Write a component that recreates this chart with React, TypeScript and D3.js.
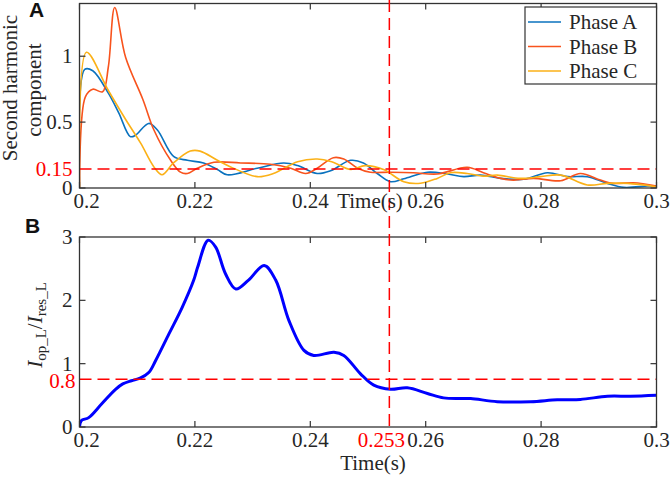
import React from "react";
import * as d3 from "d3";

// ---------- Data ----------
const phaseNames = ["Phase A", "Phase B", "Phase C"];
const phaseColors = ["#0A72BE", "#F8531D", "#FBB117"];

const tA = [0.2, 0.2009, 0.2023, 0.205, 0.2068, 0.2088, 0.2097, 0.212, 0.2135, 0.2163, 0.2187, 0.2215, 0.2239, 0.2256, 0.2308, 0.2354, 0.2378, 0.2412, 0.2435, 0.247, 0.2492, 0.2516, 0.2539, 0.2562, 0.2603, 0.2638, 0.2666, 0.2695, 0.273, 0.277, 0.2811, 0.2846, 0.288, 0.2915, 0.2943, 0.2985, 0.3];
const vA = [0, 0.9, 0.89, 0.72, 0.57, 0.39, 0.4, 0.49, 0.44, 0.24, 0.21, 0.19, 0.14, 0.1, 0.15, 0.19, 0.17, 0.11, 0.13, 0.21, 0.19, 0.11, 0.048, 0.07, 0.12, 0.106, 0.086, 0.098, 0.073, 0.066, 0.116, 0.086, 0.086, 0.035, 0.005, 0.015, 0.015];

const tB = [0.2, 0.201, 0.2023, 0.204, 0.205, 0.2061, 0.208, 0.211, 0.2129, 0.2158, 0.2175, 0.2187, 0.2204, 0.2233, 0.2279, 0.2331, 0.2366, 0.2392, 0.2412, 0.244, 0.2458, 0.2482, 0.2504, 0.2539, 0.2579, 0.262, 0.2672, 0.27, 0.273, 0.2752, 0.2787, 0.2834, 0.2868, 0.2903, 0.2925, 0.296, 0.3];
const vB = [0, 0.69, 0.75, 0.73, 0.92, 1.37, 0.99, 0.67, 0.44, 0.21, 0.12, 0.11, 0.15, 0.195, 0.19, 0.18, 0.15, 0.11, 0.15, 0.23, 0.22, 0.15, 0.12, 0.12, 0.116, 0.106, 0.157, 0.116, 0.073, 0.06, 0.073, 0.055, 0.11, 0.06, 0.035, 0.04, 0.015];

const tC = [0.2, 0.2012, 0.205, 0.208, 0.2106, 0.2129, 0.2143, 0.2163, 0.2192, 0.2209, 0.2239, 0.2262, 0.2308, 0.2336, 0.2378, 0.2412, 0.2437, 0.247, 0.2495, 0.2527, 0.2562, 0.2591, 0.262, 0.2643, 0.2672, 0.27, 0.2724, 0.2764, 0.2799, 0.2834, 0.288, 0.2915, 0.295, 0.3];
const vC = [0, 1.03, 0.74, 0.52, 0.34, 0.16, 0.1, 0.19, 0.28, 0.28, 0.21, 0.16, 0.086, 0.11, 0.2, 0.22, 0.2, 0.14, 0.17, 0.14, 0.048, 0.036, 0.073, 0.116, 0.11, 0.09, 0.098, 0.073, 0.086, 0.098, 0.023, 0.035, 0.035, 0.01];

const tRatio = [0.2, 0.2003, 0.2016, 0.2039, 0.2062, 0.2075, 0.209, 0.2105, 0.212, 0.2132, 0.2155, 0.2178, 0.2198, 0.2205, 0.2223, 0.2236, 0.2253, 0.2271, 0.2293, 0.232, 0.234, 0.2363, 0.2389, 0.2406, 0.2441, 0.2458, 0.2487, 0.251, 0.2539, 0.2568, 0.2603, 0.2631, 0.266, 0.2678, 0.2724, 0.2782, 0.2828, 0.2868, 0.2915, 0.2955, 0.3];
const vRatio = [0, 0.1, 0.148, 0.37, 0.59, 0.68, 0.73, 0.77, 0.86, 1.05, 1.47, 1.89, 2.32, 2.53, 2.95, 2.84, 2.42, 2.18, 2.32, 2.55, 2.32, 1.68, 1.21, 1.13, 1.18, 1.13, 0.84, 0.66, 0.595, 0.62, 0.53, 0.46, 0.45, 0.45, 0.4, 0.4, 0.43, 0.435, 0.485, 0.485, 0.5];

const xTicks = [0.2, 0.22, 0.24, 0.26, 0.28, 0.3];
const xTickLabels = ["0.2", "0.22", "0.24", "0.26", "0.28", "0.3"];
const yTicksA = [0, 0.5, 1];
const yTickLabelsA = ["0", "0.5", "1"];
const yTicksB = [0, 1, 2, 3];
const yTickLabelsB = ["0", "1", "2", "3"];

const thresholdA = 0.145;
const thresholdALabel = "0.15";
const thresholdB = 0.755;
const thresholdBLabel = "0.8";
const tripTime = 0.2537;
const tripLabel = "0.253";

// ---------- Layout ----------
const W = 671, H = 478;
const L = 79.5, R = 656.5;
const A_TOP = 3.5, A_BOT = 188;
const B_TOP = 237, B_BOT = 427;
const SERIF = "'Liberation Serif', 'Times New Roman', serif";
const SANS = "'Liberation Sans', Arial, sans-serif";
const FS = 21;
const AX = "#333333";
const RED = "#FF0000";

const x = d3.scaleLinear().domain([0.2, 0.3]).range([L, R]);
const yA = d3.scaleLinear().domain([0, 1.4]).range([A_BOT, A_TOP]);
const yB = d3.scaleLinear().domain([0, 3]).range([B_BOT, B_TOP]);

function zip(t: number[], v: number[]): [number, number][] {
  return t.map((d, i) => [d, v[i]]);
}

const seriesA = [zip(tA, vA), zip(tB, vB), zip(tC, vC)];
const ratioData = zip(tRatio, vRatio);

const lineA = d3.line<[number, number]>().x(d => x(d[0])).y(d => yA(d[1])).curve(d3.curveCatmullRom.alpha(0.5));
const lineB = d3.line<[number, number]>().x(d => x(d[0])).y(d => yB(d[1])).curve(d3.curveCatmullRom.alpha(0.5));

function Frame({ top, bot, y, yTicks }: { top: number; bot: number; y: d3.ScaleLinear<number, number>; yTicks: number[] }) {
  const tl = 6;
  return (
    <g>
      <rect x={L} y={top} width={R - L} height={bot - top} fill="none" stroke={AX} strokeWidth={1.3} />
      {xTicks.map((t, i) => (
        <g key={"xt" + i}>
          <line x1={x(t)} x2={x(t)} y1={bot} y2={bot - tl} stroke={AX} strokeWidth={1.2} />
          <line x1={x(t)} x2={x(t)} y1={top} y2={top + tl} stroke={AX} strokeWidth={1.2} />
        </g>
      ))}
      {yTicks.map((t, i) => (
        <g key={"yt" + i}>
          <line x1={L} x2={L + tl} y1={y(t)} y2={y(t)} stroke={AX} strokeWidth={1.2} />
          <line x1={R} x2={R - tl} y1={y(t)} y2={y(t)} stroke={AX} strokeWidth={1.2} />
        </g>
      ))}
    </g>
  );
}

export default function App() {
  return (
    <svg width={W} height={H} viewBox={`0 0 ${W} ${H}`} style={{ position: "absolute", left: 0, top: 0, background: "#fff" }}>
      <defs>
        <clipPath id="clipA"><rect x={L} y={A_TOP} width={R - L} height={A_BOT - A_TOP} /></clipPath>
        <clipPath id="clipB"><rect x={L} y={B_TOP} width={R - L} height={B_BOT - B_TOP} /></clipPath>
      </defs>
      <rect x={0} y={0} width={W} height={H} fill="#fff" />

      {/* Panel A */}
      <g clipPath="url(#clipA)">
        {seriesA.map((s, i) => (
          <path key={i} d={lineA(s) || ""} fill="none" stroke={phaseColors[i]} strokeWidth={1.6} strokeLinejoin="round" />
        ))}
      </g>
      <line x1={L} x2={R} y1={yA(thresholdA)} y2={yA(thresholdA)} stroke={RED} strokeWidth={1.5} strokeDasharray="12,6" />
      <Frame top={A_TOP} bot={A_BOT} y={yA} yTicks={yTicksA} />

      {/* Panel B */}
      <g clipPath="url(#clipB)">
        <path d={lineB(ratioData) || ""} fill="none" stroke="#0000FF" strokeWidth={3} strokeLinejoin="round" />
      </g>
      <line x1={L} x2={R} y1={yB(thresholdB)} y2={yB(thresholdB)} stroke={RED} strokeWidth={1.5} strokeDasharray="12,6" />
      <Frame top={B_TOP} bot={B_BOT} y={yB} yTicks={yTicksB} />

      {/* Vertical trip line */}
      <line x1={x(tripTime)} x2={x(tripTime)} y1={0} y2={B_BOT + 1} stroke={RED} strokeWidth={1.5} strokeDasharray="12,6" />

      {/* Tick labels */}
      <g fontFamily={SERIF} fontSize={FS} fill="#262626">
        {xTicks.map((t, i) => (
          <text key={"xa" + i} x={x(t) + (i === 0 ? 7 : 0)} y={A_BOT + 13} textAnchor="middle" dominantBaseline="central">{xTickLabels[i]}</text>
        ))}
        {xTicks.map((t, i) => (
          <text key={"xb" + i} x={x(t) + (i === 0 ? 7 : 0)} y={B_BOT + 13} textAnchor="middle" dominantBaseline="central">{xTickLabels[i]}</text>
        ))}
        {yTicksA.map((t, i) => (
          <text key={"ya" + i} x={L - 7} y={yA(t)} textAnchor="end" dominantBaseline="central">{yTickLabelsA[i]}</text>
        ))}
        {yTicksB.map((t, i) => (
          <text key={"yb" + i} x={L - 7} y={yB(t)} textAnchor="end" dominantBaseline="central">{yTickLabelsB[i]}</text>
        ))}
        <text x={370} y={A_BOT + 13} textAnchor="middle" dominantBaseline="central">Time(s)</text>
        <text x={373} y={463} textAnchor="middle" dominantBaseline="central">Time(s)</text>
      </g>
      <g fontFamily={SERIF} fontSize={FS} fill={RED}>
        <text x={L - 7} y={yA(thresholdA)} textAnchor="end" dominantBaseline="central">{thresholdALabel}</text>
        <text x={L - 4} y={yB(thresholdB) + 2} textAnchor="end" dominantBaseline="central">{thresholdBLabel}</text>
        <text x={x(tripTime) - 8} y={B_BOT + 13} textAnchor="middle" dominantBaseline="central">{tripLabel}</text>
      </g>

      {/* Y axis titles */}
      <g fontFamily={SERIF} fontSize={FS} fill="#262626">
        <text transform="translate(17,88) rotate(-90)" textAnchor="middle">Second harmonic</text>
        <text transform="translate(41,90) rotate(-90)" textAnchor="middle">component</text>
        <text transform="translate(42,325) rotate(-90)" textAnchor="middle">
          <tspan fontStyle="italic">I</tspan>
          <tspan fontSize={15} dy={4}>op_L</tspan>
          <tspan dy={-4}>/</tspan>
          <tspan fontStyle="italic">I</tspan>
          <tspan fontSize={15} dy={4}>res_L</tspan>
        </text>
      </g>

      {/* Panel letters */}
      <text x={29} y={17} fontFamily={SANS} fontWeight="bold" fontSize={21} fill="#111">A</text>
      <text x={25} y={233} fontFamily={SANS} fontWeight="bold" fontSize={21} fill="#111">B</text>

      {/* Legend */}
      <g>
        <rect x={525} y={7} width={R - 525} height={77} fill="#fff" stroke={AX} strokeWidth={1.2} />
        {phaseNames.map((n, i) => (
          <g key={n}>
            <line x1={528} x2={561} y1={22 + i * 24.5} y2={22 + i * 24.5} stroke={phaseColors[i]} strokeWidth={1.6} />
            <text x={569} y={22 + i * 24.5} fontFamily={SERIF} fontSize={FS} fill="#262626" dominantBaseline="central">{n}</text>
          </g>
        ))}
      </g>
    </svg>
  );
}
